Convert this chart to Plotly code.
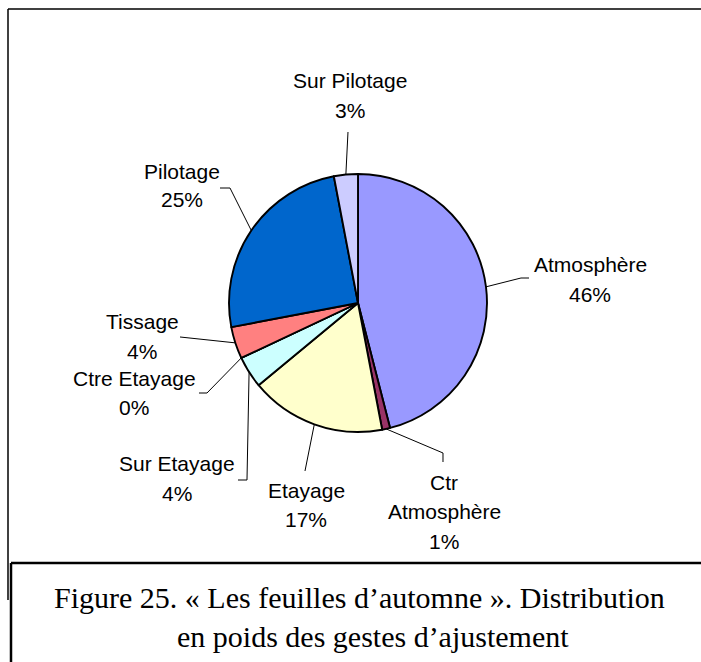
import plotly.graph_objects as go
import math

# ---- data ----
categories = ["Atmosphère", "Ctr Atmosphère", "Etayage", "Sur Etayage",
              "Ctre Etayage", "Tissage", "Pilotage", "Sur Pilotage"]
values = [46, 1, 17, 4, 0, 4, 25, 3]
label_lines = [["Atmosphère", "46%"], ["Ctr", "Atmosphère", "1%"], ["Etayage", "17%"],
               ["Sur Etayage", "4%"], ["Ctre Etayage", "0%"], ["Tissage", "4%"],
               ["Pilotage", "25%"], ["Sur Pilotage", "3%"]]
colors = ["#9999FF", "#993366", "#FFFFCC", "#CCFFFF", "#660066", "#FF8080", "#0066CC", "#CCCCFF"]
caption = ["Figure 25. « Les feuilles d’automne ». Distribution",
           "en poids des gestes d’ajustement"]

# ---- layout (pixels) ----
W, H = 701, 662
CX, CY, R = 358, 303, 129
# label anchor: (center x, first line center y)
label_pos = [(590, 264), (444, 482), (306, 490), (177, 463), (134, 378), (142, 321), (182, 171), (350, 80)]
line_gap = [30, 29.5, 29, 30, 29, 30, 29, 30]
# leader line points from label side (end point computed from slice angle)
leader_pts = [[(529, 278), (521, 278)], [(443, 462), (443, 453)], [(305, 471)],
              [(238, 480), (247, 480)], [(199, 393), (207, 393)], [(180, 337)],
              [(220, 188), (230, 188)], [(348, 132)]]


def px(x):
    return x / W


def py(y):
    return 1 - y / H


fig = go.Figure(go.Pie(
    labels=categories, values=values, sort=False, direction="clockwise", rotation=0,
    marker=dict(colors=colors, line=dict(color="black", width=1.9)),
    textinfo="none", hoverinfo="label+percent", showlegend=False,
    domain=dict(x=[px(CX - R), px(CX + R)], y=[py(CY + R), py(CY - R)]),
))

annotations = []
shapes = []
total = sum(values)
cum = 0
for i, v in enumerate(values):
    mid = (cum + v / 2) / total * 2 * math.pi
    cum += v
    ex = CX + R * math.sin(mid)
    ey = CY - R * math.cos(mid)
    pts = leader_pts[i] + [(ex, ey)]
    path = "M " + " L ".join(f"{px(x):.5f},{py(y):.5f}" for x, y in pts)
    shapes.append(dict(type="path", xref="paper", yref="paper", path=path,
                       line=dict(color="black", width=1)))
    lx, ly = label_pos[i]
    for j, t in enumerate(label_lines[i]):
        annotations.append(dict(text=t, x=px(lx), y=py(ly + j * line_gap[i]), xref="paper", yref="paper",
                                xanchor="center", yanchor="middle", showarrow=False,
                                font=dict(family="Liberation Sans, Arial", size=21, color="black")))

# caption
cap_pos = [(359, 597), (373, 636)]
for t, (x, y) in zip(caption, cap_pos):
    annotations.append(dict(text=t, x=px(x), y=py(y), xref="paper", yref="paper",
                            xanchor="center", yanchor="middle", showarrow=False,
                            font=dict(family="Liberation Serif, Times New Roman", size=30, color="black")))

# frames
frame_lines = [((8, 9), (701, 9), 1.5), ((8, 9), (8, 600), 1.5),
               ((11, 563), (701, 563), 2.5), ((11, 563), (11, 662), 2.5)]
for (x0, y0), (x1, y1), w in frame_lines:
    shapes.append(dict(type="line", xref="paper", yref="paper", x0=px(x0), y0=py(y0),
                       x1=px(x1), y1=py(y1), line=dict(color="black", width=w)))

fig.update_layout(width=W, height=H, margin=dict(l=0, r=0, t=0, b=0),
                  paper_bgcolor="white", plot_bgcolor="white",
                  annotations=annotations, shapes=shapes)
fig.write_html("out.html", config={"displayModeBar": False},
               post_script="document.body.style.margin='0';document.body.style.overflow='hidden';")
